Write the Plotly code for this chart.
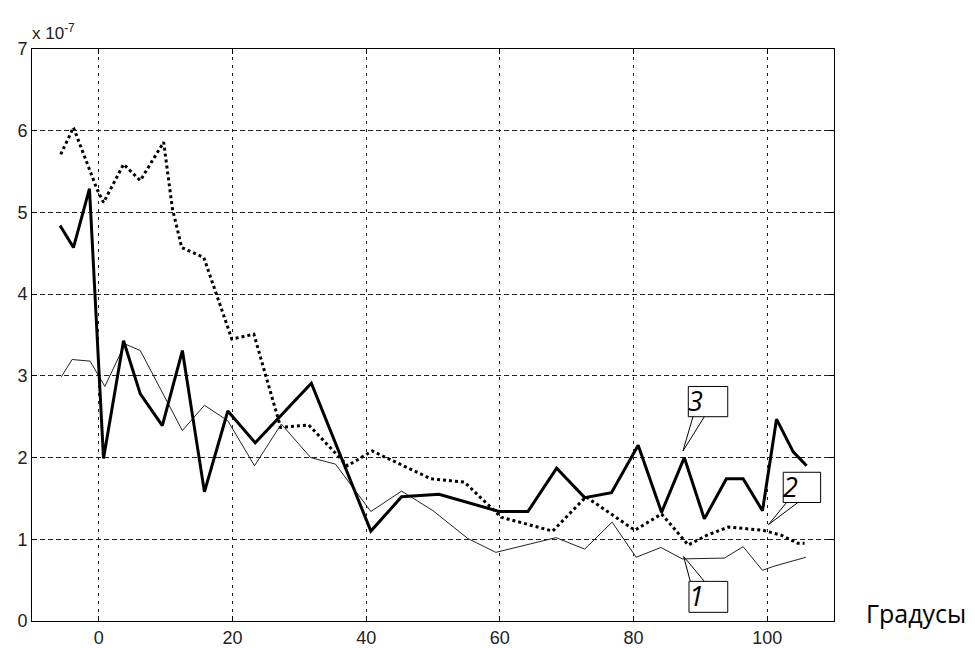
import plotly.graph_objects as go

# ---- data (units of 1e-7) ----
x_curve1 = [-5.6, -4.0, -1.3, 0.9, 3.9, 6.2, 12.5, 15.8, 19.3, 23.3, 27.3, 31.7, 35.4, 40.7, 45.3,
            50.0, 55.2, 59.4, 68.4, 72.7, 76.8, 80.4, 84.1, 87.3, 93.6, 96.4, 99.3, 101.0, 105.8]
y_curve1 = [2.99, 3.20, 3.18, 2.87, 3.39, 3.31, 2.33, 2.64, 2.45, 1.90, 2.41, 2.00, 1.92, 1.34, 1.59,
            1.35, 1.01, 0.84, 1.02, 0.88, 1.21, 0.78, 0.90, 0.76, 0.77, 0.91, 0.62, 0.67, 0.78]

x_curve2 = [-5.7, -3.8, -0.3, 0.7, 3.7, 6.2, 9.7, 11.0, 12.4, 15.7, 19.9, 23.2, 27.2, 31.4, 37.2,
            40.9, 49.7, 54.7, 60.2, 67.9, 72.9, 80.2, 84.2, 88.2, 91.0, 94.2, 99.4, 102.1, 104.6, 105.6]
y_curve2 = [5.71, 6.04, 5.29, 5.12, 5.59, 5.39, 5.86, 5.05, 4.57, 4.45, 3.45, 3.51, 2.37, 2.40, 1.90,
            2.08, 1.74, 1.70, 1.27, 1.10, 1.52, 1.11, 1.31, 0.93, 1.05, 1.15, 1.11, 1.05, 0.95, 0.95]

x_curve3 = [-5.8, -3.8, -1.4, -0.4, 0.7, 3.7, 6.2, 9.5, 12.5, 15.8, 19.3, 23.4, 31.8, 40.7, 45.3,
            50.9, 59.9, 64.2, 68.5, 72.7, 76.7, 80.7, 84.2, 87.6, 90.6, 93.9, 96.4, 99.3, 101.4, 103.9, 105.9]
y_curve3 = [4.84, 4.57, 5.29, 3.65, 1.99, 3.43, 2.78, 2.39, 3.31, 1.58, 2.57, 2.18, 2.91, 1.10, 1.52,
            1.55, 1.34, 1.34, 1.87, 1.51, 1.57, 2.15, 1.33, 2.00, 1.25, 1.74, 1.74, 1.35, 2.47, 2.07, 1.90]

x_ticks = [0, 20, 40, 60, 80, 100]
y_ticks = [0, 1, 2, 3, 4, 5, 6, 7]

# callout labels: text, box x0,x1,y0,y1, wedge base x a,b at y, tip x,y
callout_labels = ["3", "2", "1"]
callout_boxes = [(88.2, 94.1, 2.50, 2.87), (102.4, 108.0, 1.45, 1.82), (88.3, 94.1, 0.106, 0.485)]
callout_bases = [(88.9, 90.6, 2.50), (102.9, 104.6, 1.45), (88.5, 90.6, 0.485)]
callout_tips = [(87.4, 2.08), (100.2, 1.18), (87.5, 0.79)]

fig = go.Figure()
fig.add_trace(go.Scatter(x=x_curve1, y=y_curve1, mode="lines",
                         line=dict(color="#222222", width=1), name="1"))
fig.add_trace(go.Scatter(x=x_curve2, y=y_curve2, mode="lines",
                         line=dict(color="#000000", width=3, dash="dot"), name="2"))
fig.add_trace(go.Scatter(x=x_curve3, y=y_curve3, mode="lines",
                         line=dict(color="#000000", width=3), name="3"))

shapes = []
annotations = []
for lab, box, base, tip in zip(callout_labels, callout_boxes, callout_bases, callout_tips):
    x0, x1, y0, y1 = box
    shapes.append(dict(type="rect", xref="x", yref="y", x0=x0, x1=x1, y0=y0, y1=y1,
                       line=dict(color="black", width=1), fillcolor="white", layer="above"))
    ba, bb, by = base
    tx, ty = tip
    shapes.append(dict(type="path", xref="x", yref="y",
                       path=f"M {ba},{by} L {tx},{ty} L {bb},{by}",
                       line=dict(color="black", width=1), layer="above"))
    annotations.append(dict(x=x0, y=y0, xref="x", yref="y", text=f"<i>{lab}</i>",
                            showarrow=False, xanchor="left", yanchor="bottom",
                            xshift=-2, yshift=-4,
                            font=dict(family="Open Sans", size=27, color="black")))

annotations.append(dict(x=0, y=1, xref="paper", yref="paper", text="x 10<sup>-7</sup>",
                        showarrow=False, xanchor="left", yanchor="bottom", xshift=-2, yshift=4,
                        font=dict(family="Liberation Sans", size=17, color="#222222")))
annotations.append(dict(x=1.0375, y=0, xref="paper", yref="paper", text="Градусы",
                        showarrow=False, xanchor="left", yanchor="middle", yshift=8,
                        font=dict(family="Open Sans", size=25, color="black")))

fig.update_layout(
    width=975, height=648,
    margin=dict(l=32, r=141, t=49, b=27),
    paper_bgcolor="white", plot_bgcolor="white",
    showlegend=False,
    shapes=shapes, annotations=annotations,
    xaxis=dict(range=[-10, 110], tickvals=x_ticks, ticktext=[str(v) for v in x_ticks],
               showgrid=True, gridcolor="#222222", gridwidth=1, griddash="3px,5px",
               showline=True, linecolor="black", linewidth=1, mirror="ticks",
               ticks="inside", ticklen=5, tickcolor="black", zeroline=False,
               tickfont=dict(family="Liberation Sans", size=18, color="#222222"),
               automargin=False),
    yaxis=dict(range=[0, 7], tickvals=y_ticks, ticktext=[str(v) for v in y_ticks],
               showgrid=True, gridcolor="#222222", gridwidth=1, griddash="5px,3px",
               showline=True, linecolor="black", linewidth=1, mirror="ticks",
               ticks="inside", ticklen=5, tickcolor="black", zeroline=False,
               tickfont=dict(family="Liberation Sans", size=18, color="#222222"),
               automargin=False),
)

fig.write_html("out.html", config={"displayModeBar": False},
               post_script="document.body.style.margin='0';document.body.style.overflow='hidden';")
